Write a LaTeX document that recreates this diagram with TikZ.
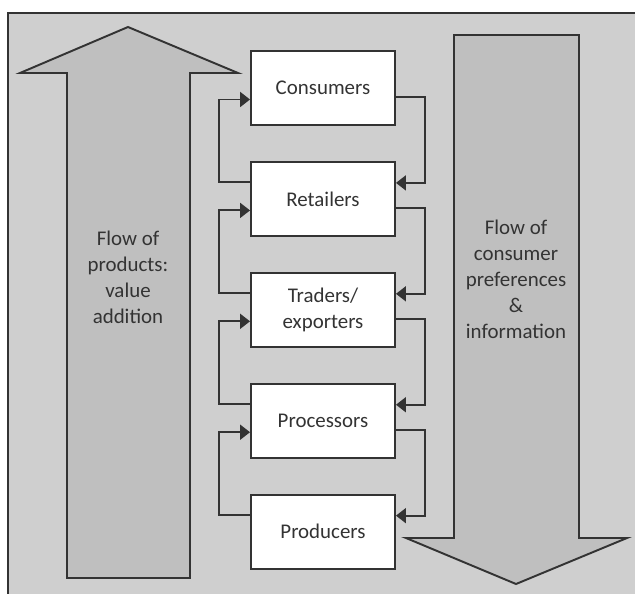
\documentclass[tikz,border=0pt]{standalone}
\usepackage{fontspec}
\setmainfont{Carlito}
\usetikzlibrary{arrows.meta,positioning}

\definecolor{bggray}{RGB}{207,207,207}
\definecolor{flowgray}{RGB}{191,191,191}
\definecolor{linegray}{RGB}{51,51,51}

\begin{document}
\begin{tikzpicture}[
  x=0.02cm, y=-0.02cm,
  node distance=0.7cm,
  font=\fontsize{11.9}{14.8}\selectfont,
  box/.style={rectangle, draw=linegray, fill=white, line width=1.1pt,
    minimum width=2.88cm, minimum height=1.48cm, align=center, text=linegray},
  flow/.style={draw=linegray, fill=flowgray, line width=1.1pt},
  flowtext/.style={align=center, text=linegray},
  link/.style={-{Triangle[length=0.2cm,width=0.3cm]}, draw=linegray, line width=1.1pt}
]

% Canvas and frame
\useasboundingbox (0,0) rectangle (635,594);
\fill[white] (0,0) rectangle (635,594);
\fill[bggray] (8,13) rectangle (635,594);
\draw[linegray, line width=1.3pt] (635,13) -- (8,13) -- (8,594);

% Big flow arrows
\draw[flow] (67,578) -- (67,73) -- (20,73) -- (128,27) -- (238,73)
  -- (190,73) -- (190,578) -- cycle;
\draw[flow] (454,35) -- (579,35) -- (579,538) -- (627,538) -- (516,584)
  -- (406,538) -- (454,538) -- cycle;

\node[flowtext] (up) at (128,277) {Flow of\\products:\\value\\addition};
\node[flowtext] (down) at (516,279) {Flow of\\consumer\\preferences\\\&\\information};

% Chain actors
\node[box] (cons) at (323,88) {Consumers};
\node[box, below=of cons] (ret) {Retailers};
\node[box, below=of ret] (trad) {Traders/\\exporters};
\node[box, below=of trad] (proc) {Processors};
\node[box, below=of proc] (prod) {Producers};

% Links between neighbours
\foreach \a/\b in {cons/ret, ret/trad, trad/proc, proc/prod} {
  \draw[link] ([yshift=0.33cm]\b.west) -- ++(-0.62cm,0) |- ([yshift=-0.23cm]\a.west);
  \draw[link] ([yshift=-0.18cm]\a.east) -- ++(0.58cm,0) |- ([yshift=0.32cm]\b.east);
}

\end{tikzpicture}
\end{document}
